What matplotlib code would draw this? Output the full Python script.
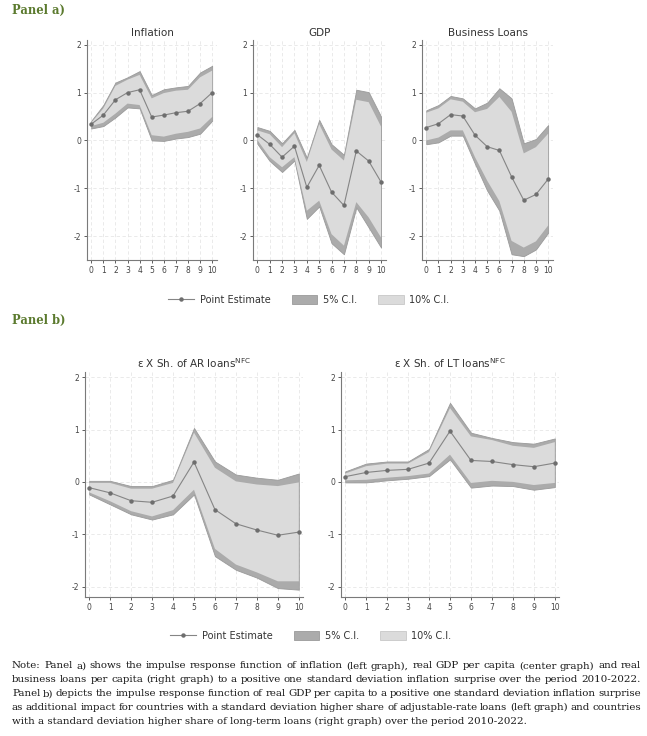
import matplotlib
matplotlib.use('Agg')
import matplotlib.pyplot as plt
import numpy as np
from matplotlib.lines import Line2D
from matplotlib.patches import Patch

plt.rcParams['axes.unicode_minus'] = False

horizons = list(range(11))

# Panel a) - Inflation
infl_est = [0.34, 0.53, 0.85, 1.00, 1.06, 0.49, 0.53, 0.58, 0.61, 0.77, 1.00]
infl_hi5 = [0.41, 0.74, 1.21, 1.32, 1.45, 0.95, 1.07, 1.11, 1.14, 1.42, 1.56]
infl_hi10 = [0.37, 0.67, 1.14, 1.27, 1.37, 0.88, 0.99, 1.04, 1.06, 1.32, 1.46]
infl_lo10 = [0.30, 0.37, 0.56, 0.77, 0.74, 0.11, 0.08, 0.14, 0.18, 0.25, 0.49]
infl_lo5 = [0.25, 0.30, 0.48, 0.69, 0.67, 0.00, -0.01, 0.04, 0.07, 0.14, 0.41]

# Panel a) - GDP
gdp_est = [0.12, -0.08, -0.35, -0.12, -0.98, -0.52, -1.08, -1.36, -0.22, -0.43, -0.87]
gdp_hi5 = [0.28, 0.20, -0.06, 0.22, -0.36, 0.43, -0.08, -0.30, 1.06, 1.01, 0.50]
gdp_hi10 = [0.21, 0.13, -0.14, 0.15, -0.45, 0.34, -0.19, -0.42, 0.85, 0.80, 0.29]
gdp_lo10 = [0.01, -0.35, -0.56, -0.35, -1.47, -1.26, -1.96, -2.20, -1.29, -1.61, -2.03]
gdp_lo5 = [-0.07, -0.43, -0.66, -0.42, -1.64, -1.38, -2.15, -2.38, -1.40, -1.82, -2.24]

# Panel a) - Business Loans
bl_est = [0.27, 0.35, 0.54, 0.51, 0.11, -0.13, -0.21, -0.76, -1.25, -1.13, -0.81]
bl_hi5 = [0.63, 0.74, 0.93, 0.88, 0.67, 0.79, 1.09, 0.88, -0.06, 0.03, 0.32]
bl_hi10 = [0.58, 0.67, 0.86, 0.81, 0.59, 0.66, 0.91, 0.60, -0.27, -0.14, 0.14]
bl_lo10 = [0.00, 0.06, 0.21, 0.21, -0.35, -0.84, -1.27, -2.10, -2.24, -2.11, -1.78]
bl_lo5 = [-0.08, -0.04, 0.10, 0.10, -0.49, -1.05, -1.47, -2.38, -2.42, -2.28, -1.93]

# Panel b) - AR loans
ar_est = [-0.11, -0.21, -0.36, -0.39, -0.27, 0.38, -0.53, -0.80, -0.92, -1.02, -0.96]
ar_hi5 = [0.02, 0.02, -0.08, -0.08, 0.04, 1.03, 0.39, 0.14, 0.08, 0.04, 0.16]
ar_hi10 = [-0.02, -0.02, -0.13, -0.13, -0.02, 0.94, 0.27, 0.01, -0.05, -0.08, -0.01]
ar_lo10 = [-0.20, -0.37, -0.56, -0.66, -0.54, -0.15, -1.28, -1.58, -1.73, -1.90, -1.90]
ar_lo5 = [-0.24, -0.43, -0.62, -0.72, -0.62, -0.24, -1.42, -1.68, -1.83, -2.03, -2.06]

# Panel b) - LT loans
lt_est = [0.10, 0.18, 0.22, 0.24, 0.36, 0.97, 0.41, 0.39, 0.33, 0.29, 0.36]
lt_hi5 = [0.20, 0.35, 0.39, 0.39, 0.63, 1.51, 0.94, 0.84, 0.76, 0.73, 0.83]
lt_hi10 = [0.16, 0.30, 0.35, 0.35, 0.57, 1.41, 0.87, 0.80, 0.69, 0.65, 0.76]
lt_lo10 = [0.03, 0.04, 0.08, 0.11, 0.16, 0.52, -0.02, 0.02, 0.00, -0.06, -0.02]
lt_lo5 = [-0.01, -0.01, 0.03, 0.06, 0.11, 0.43, -0.11, -0.07, -0.08, -0.15, -0.10]

note_lines = [
    "Note: Panel a) shows the impulse response function of inflation (left graph), real GDP per capita (center graph) and real",
    "business loans per capita (right graph) to a positive one standard deviation inflation surprise over the period 2010-2022.",
    "Panel b) depicts the impulse response function of real GDP per capita to a positive one standard deviation inflation surprise",
    "as additional impact for countries with a standard deviation higher share of adjustable-rate loans (left graph) and countries",
    "with a standard deviation higher share of long-term loans (right graph) over the period 2010-2022.",
]

DARK = '#ababab'
LIGHT = '#dbdbdb'
LINE = '#858585'
GREEN = '#5b7a2e'

W, H = 647, 736
fig = plt.figure(figsize=(W / 100, H / 100), dpi=100)


def px_axes(left, top, width, height):
    """Add axes given pixel box (top-left origin)."""
    return fig.add_axes([left / W, 1 - (top + height) / H, width / W, height / H])


def irf_plot(ax, est, hi5, hi10, lo10, lo5, title, ylim, xlim):
    ax.fill_between(horizons, lo5, hi5, facecolor=DARK, edgecolor='#9a9a9a', lw=0.6, zorder=2)
    ax.fill_between(horizons, lo10, hi10, facecolor=LIGHT, edgecolor='none', zorder=3)
    ax.plot(horizons, est, color=LINE, lw=0.8, marker='o', ms=2.2,
            mfc='#6e6e6e', mec='#6e6e6e', zorder=4)
    ax.set_xlim(*xlim)
    ax.set_ylim(*ylim)
    ax.set_xticks(horizons)
    ax.set_yticks([-2, -1, 0, 1, 2])
    ax.grid(True, color='#e6e6e6', lw=0.6, ls=(0, (4, 3)), zorder=0)
    ax.set_axisbelow(True)
    for s in ['top', 'right']:
        ax.spines[s].set_visible(False)
    for s in ['left', 'bottom']:
        ax.spines[s].set_color('#7a7a7a')
        ax.spines[s].set_linewidth(0.8)
    ax.tick_params(labelsize=5.5, colors='#444444', length=2.5, width=0.6, pad=1.5)
    ax.set_title(title, fontsize=7.5, color='#333333', pad=3)


# Panel a)
ylim_a = (-2.5, 2.1)
xlim_a = (-0.35, 10.4)
irf_plot(px_axes(87, 40, 130, 220), infl_est, infl_hi5, infl_hi10, infl_lo10, infl_lo5,
         'Inflation', ylim_a, xlim_a)
irf_plot(px_axes(253, 40, 133, 220), gdp_est, gdp_hi5, gdp_hi10, gdp_lo10, gdp_lo5,
         'GDP', ylim_a, xlim_a)
irf_plot(px_axes(422, 40, 131, 220), bl_est, bl_hi5, bl_hi10, bl_lo10, bl_lo5,
         'Business Loans', ylim_a, xlim_a)

# Panel b)
ylim_b = (-2.2, 2.1)
xlim_b = (-0.2, 10.2)
irf_plot(px_axes(85, 372, 218, 225), ar_est, ar_hi5, ar_hi10, ar_lo10, ar_lo5,
         r'ε X Sh. of AR loans$^{\rm NFC}$', ylim_b, xlim_b)
irf_plot(px_axes(341, 372, 218, 225), lt_est, lt_hi5, lt_hi10, lt_lo10, lt_lo5,
         r'ε X Sh. of LT loans$^{\rm NFC}$', ylim_b, xlim_b)

# legends
handles = [
    Line2D([0], [0], color=LINE, lw=0.8, marker='o', ms=2.2, mfc='#6e6e6e', mec='#6e6e6e'),
    Patch(facecolor=DARK, edgecolor='#9a9a9a', lw=0.6),
    Patch(facecolor=LIGHT, edgecolor='#c8c8c8', lw=0.6),
]
labels = ['Point Estimate', '5% C.I.', '10% C.I.']
for ycen, xcen in [(300, 309), (636, 311)]:
    fig.legend(handles, labels, loc='center', bbox_to_anchor=(xcen / W, 1 - ycen / H),
               ncol=3, frameon=False, fontsize=7, labelcolor='#333333',
               handlelength=2.6, handleheight=1.0, columnspacing=2.2, handletextpad=0.6)

# panel labels
for ytop, txt in [(10, 'Panel a)'), (320, 'Panel b)')]:
    fig.text(12 / W, 1 - ytop / H, txt, family='DejaVu Serif', weight='bold',
             fontsize=8.3, color=GREEN, va='center', ha='left')

# note, justified
renderer = fig.canvas.get_renderer()
x_left, x_right = 12, 641
note_font = dict(family='DejaVu Serif', fontsize=7.35, color='#1a1a1a', va='center', ha='left')
for i, line in enumerate(note_lines):
    y = 1 - (666 + i * 13.8) / H
    if i == len(note_lines) - 1:
        fig.text(x_left / W, y, line, **note_font)
        continue
    words = line.split(' ')
    texts = [fig.text(0, y, w, **note_font) for w in words]
    widths = [t.get_window_extent(renderer).width for t in texts]
    gap = ((x_right - x_left) - sum(widths)) / (len(words) - 1)
    x = x_left
    for t, wd in zip(texts, widths):
        t.set_x(x / W)
        x += wd + gap

fig.savefig('out.png', dpi=100)
